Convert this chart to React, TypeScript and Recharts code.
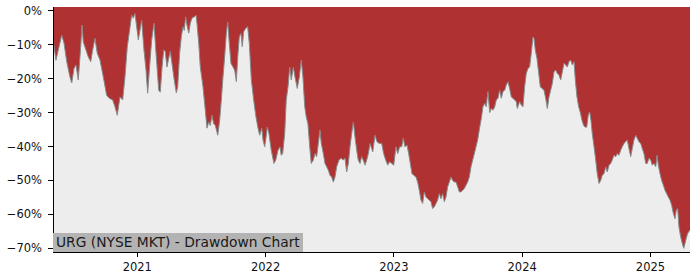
import { Area, AreaChart, CartesianGrid, XAxis, YAxis } from "recharts";

// decimal years of each sample
const years = [
  2020.343, 2020.366, 2020.384, 2020.411, 2020.429, 2020.45, 2020.475, 2020.489, 2020.507, 2020.522,
  2020.54, 2020.559, 2020.569, 2020.579, 2020.6, 2020.618, 2020.637, 2020.652, 2020.67, 2020.688,
  2020.709, 2020.735, 2020.761, 2020.782, 2020.808, 2020.826, 2020.844, 2020.865, 2020.886, 2020.904,
  2020.922, 2020.938, 2020.956, 2020.969, 2020.982, 2020.995, 2021.008, 2021.021, 2021.034, 2021.052,
  2021.068, 2021.081, 2021.094, 2021.112, 2021.13, 2021.146, 2021.167, 2021.179, 2021.193, 2021.206,
  2021.218, 2021.231, 2021.245, 2021.257, 2021.27, 2021.288, 2021.304, 2021.315, 2021.33, 2021.343,
  2021.356, 2021.366, 2021.377, 2021.387, 2021.401, 2021.413, 2021.426, 2021.444, 2021.457, 2021.465,
  2021.479, 2021.491, 2021.512, 2021.53, 2021.543, 2021.557, 2021.569, 2021.582, 2021.595, 2021.608,
  2021.627, 2021.642, 2021.655, 2021.668, 2021.681, 2021.694, 2021.705, 2021.715, 2021.73, 2021.746,
  2021.759, 2021.772, 2021.783, 2021.795, 2021.808, 2021.818, 2021.829, 2021.845, 2021.86, 2021.873,
  2021.889, 2021.907, 2021.925, 2021.941, 2021.954, 2021.97, 2021.98, 2021.993, 2022.001, 2022.013,
  2022.026, 2022.044, 2022.065, 2022.079, 2022.097, 2022.112, 2022.122, 2022.133, 2022.149, 2022.161,
  2022.175, 2022.188, 2022.2, 2022.216, 2022.229, 2022.247, 2022.263, 2022.278, 2022.291, 2022.305,
  2022.317, 2022.33, 2022.344, 2022.356, 2022.372, 2022.385, 2022.398, 2022.411, 2022.424, 2022.434,
  2022.45, 2022.463, 2022.476, 2022.489, 2022.502, 2022.515, 2022.528, 2022.541, 2022.554, 2022.572,
  2022.59, 2022.606, 2022.619, 2022.632, 2022.645, 2022.658, 2022.671, 2022.684, 2022.697, 2022.71,
  2022.722, 2022.736, 2022.749, 2022.761, 2022.775, 2022.788, 2022.801, 2022.814, 2022.835, 2022.853,
  2022.868, 2022.886, 2022.905, 2022.92, 2022.936, 2022.952, 2022.967, 2022.983, 2022.999, 2023.016,
  2023.03, 2023.045, 2023.061, 2023.073, 2023.086, 2023.102, 2023.115, 2023.128, 2023.141, 2023.154,
  2023.172, 2023.185, 2023.198, 2023.211, 2023.224, 2023.237, 2023.25, 2023.263, 2023.276, 2023.289,
  2023.302, 2023.315, 2023.328, 2023.341, 2023.354, 2023.367, 2023.38, 2023.393, 2023.406, 2023.419,
  2023.432, 2023.445, 2023.458, 2023.471, 2023.484, 2023.497, 2023.51, 2023.523, 2023.536, 2023.549,
  2023.562, 2023.575, 2023.588, 2023.601, 2023.614, 2023.627, 2023.64, 2023.653, 2023.669, 2023.681,
  2023.694, 2023.708, 2023.72, 2023.733, 2023.747, 2023.759, 2023.772, 2023.786, 2023.798, 2023.811,
  2023.825, 2023.837, 2023.85, 2023.864, 2023.876, 2023.889, 2023.902, 2023.915, 2023.928, 2023.941,
  2023.954, 2023.962, 2023.98, 2023.993, 2024.006, 2024.019, 2024.032, 2024.045, 2024.058, 2024.071,
  2024.084, 2024.092, 2024.102, 2024.115, 2024.129, 2024.141, 2024.154, 2024.17, 2024.183, 2024.196,
  2024.209, 2024.222, 2024.235, 2024.248, 2024.261, 2024.274, 2024.287, 2024.3, 2024.313, 2024.326,
  2024.339, 2024.351, 2024.365, 2024.378, 2024.391, 2024.404, 2024.414, 2024.427, 2024.44, 2024.453,
  2024.466, 2024.479, 2024.492, 2024.503, 2024.515, 2024.526, 2024.536, 2024.546, 2024.56, 2024.573,
  2024.585, 2024.599, 2024.612, 2024.624, 2024.638, 2024.651, 2024.663, 2024.677, 2024.69, 2024.702,
  2024.715, 2024.729, 2024.741, 2024.754, 2024.768, 2024.78, 2024.793, 2024.807, 2024.819, 2024.832,
  2024.846, 2024.858, 2024.871, 2024.885, 2024.897, 2024.91, 2024.924, 2024.936, 2024.949, 2024.963,
  2024.975, 2024.988, 2025.002, 2025.014, 2025.027, 2025.041, 2025.051, 2025.061, 2025.074, 2025.087,
  2025.1, 2025.113, 2025.126, 2025.139, 2025.152, 2025.165, 2025.178, 2025.191, 2025.201, 2025.212,
  2025.222, 2025.235, 2025.248, 2025.259, 2025.269, 2025.279, 2025.29, 2025.308,
];

// drawdown in percent
const drawdown = [
  -8.4, -14.6, -11.6, -7.2, -9.6, -15, -19.5, -21.3, -17, -16,
  -20.4, -10.6, -4.2, -9.2, -11.6, -13.6, -15, -11.6, -8.1, -12.5,
  -14.5, -19.5, -24.9, -25.8, -26.3, -28.3, -30.8, -25.4, -26.3, -19.5,
  -10.6, -6.3, -1.3, -2.2, -0.8, -4.7, -8.6, -5.7, -2.8, -11.6,
  -17.5, -24.3, -17.5, -8.6, -3.7, -12.5, -23.4, -24, -16.6, -11.6,
  -12, -16.6, -14, -12, -15.5, -20.4, -24.2, -22.4, -12.5, -7.7,
  -4.7, -5.8, -1.8, -4.2, -6.6, -3.7, -2.2, -1.8, -1.3, -3.7,
  -9.6, -16.6, -22.4, -29.3, -34.6, -32.8, -33.8, -30.8, -33.3, -33.8,
  -36.7, -32.3, -26.3, -19.5, -13.6, -6.7, -3.3, -8.6, -15.5, -16.6,
  -17.5, -20.9, -13.6, -7.7, -6.7, -10.6, -6.2, -5.2, -4.7, -9.6,
  -20.4, -26.3, -31.3, -34.6, -36.7, -34.6, -38.1, -40.1, -38.1, -34.3,
  -36.2, -41.1, -45, -44, -41.1, -40.1, -42.6, -42.1, -36.2, -26.3,
  -22.4, -16.6, -20.4, -16.6, -19.5, -22.9, -19.5, -14.6, -19.5, -28.3,
  -31.3, -33.3, -40.1, -45, -44, -42.1, -43, -39.1, -35.2, -39.1,
  -42.1, -45, -46, -47, -48.5, -49, -50.5, -49, -46, -44,
  -43.5, -44, -43.5, -47.5, -45, -40.1, -36.2, -32.8, -37.2, -41.1,
  -44, -45, -43, -44, -45.5, -44, -42.1, -39.1, -41.6, -36.7,
  -38.6, -39.1, -39.1, -42.1, -44, -45.5, -44.5, -45, -45.5, -40.1,
  -42.1, -40.1, -40.1, -37.6, -40.1, -39.6, -42.1, -45, -48, -48.5,
  -49, -50.5, -52.9, -55.8, -56.8, -53.4, -54.9, -55.4, -55.8, -56.3,
  -58.3, -57.8, -56.8, -55.8, -53.9, -55.4, -53.9, -56.3, -54.9, -51.9,
  -50.5, -49, -50, -50.5, -50.5, -51.9, -53.4, -53.4, -52.9, -52.4,
  -51.4, -50.5, -49, -46, -44, -42.1, -40.1, -38.1, -34.3, -31.8,
  -28.3, -27.3, -28.3, -23.8, -30, -28.8, -29.3, -28.3, -26.3, -25.8,
  -23.4, -25.8, -23.8, -23.4, -21.9, -20.9, -22.9, -25.4, -25.8, -26.3,
  -26.8, -28.8, -26.8, -27.8, -28.3, -22.4, -18.5, -17, -16.6, -12.5,
  -7.7, -8.2, -11.6, -14, -18.5, -22.4, -22.9, -23.4, -25.8, -28.8,
  -25.4, -23.4, -21.4, -18, -17.5, -18.5, -19, -20.4, -18, -15.5,
  -16, -16.6, -15, -14.5, -16, -15, -20.4, -25.4, -28.3, -30,
  -32.3, -33.8, -34.3, -34.3, -30.8, -29.8, -32.3, -36.2, -40.1, -44,
  -48, -50.9, -50, -48.5, -48, -46, -47.5, -45.5, -45, -44,
  -42.6, -43, -42.1, -42.6, -41.1, -40.1, -39.1, -38.6, -38.1, -40.6,
  -43, -40.6, -38.1, -36.7, -37.6, -38.6, -39.1, -40.6, -42.1, -45,
  -45, -43.5, -44, -45.5, -45, -46, -42.6, -45.5, -48, -50,
  -51.4, -52.9, -53.9, -54.9, -55.8, -57.3, -59.7, -61.3, -58.8, -58.3,
  -63.7, -66.6, -68.6, -70, -68.6, -67, -65.6, -64.6,
];

const yearTicks = [2021, 2022, 2023, 2024, 2025];
const pctTicks = [0, -10, -20, -30, -40, -50, -60, -70];
const chartLabel = "URG (NYSE MKT) - Drawdown Chart";

const X_DOMAIN: [number, number] = [2020.343, 2025.308];
const Y_MAX = 1.1;
const Y_DOMAIN: [number, number] = [-71.1, Y_MAX];

const FONT = "DejaVu Sans, sans-serif";
const tickStyle = { fontSize: 11.5, fill: "#111", fontFamily: FONT };
const lineStyle = { stroke: "#000", strokeWidth: 1, shapeRendering: "crispEdges" };

const fmtPct = (v: number) => (v === 0 ? "0%" : `\u2212${Math.abs(v)}%`);

export default function App() {
  const data = years.map((t, i) => ({ t, dd: drawdown[i] }));

  return (
    <div style={{ position: "absolute", left: 0, top: 0, width: 700, height: 280, background: "#fff" }}>
      <AreaChart width={700} height={280} data={data} margin={{ top: 7, right: 10, bottom: 0, left: 0 }}>
        <CartesianGrid horizontal={false} vertical={false} fill="#ededed" />
        <XAxis
          dataKey="t"
          type="number"
          domain={X_DOMAIN}
          ticks={yearTicks}
          allowDataOverflow
          height={28}
          tick={tickStyle}
          tickSize={5}
          tickMargin={6}
          tickLine={lineStyle}
          axisLine={lineStyle}
        />
        <XAxis
          xAxisId="top"
          orientation="top"
          dataKey="t"
          type="number"
          domain={X_DOMAIN}
          allowDataOverflow
          height={0}
          tick={false}
          tickLine={false}
          axisLine={lineStyle}
        />
        <YAxis
          type="number"
          domain={Y_DOMAIN}
          ticks={pctTicks}
          allowDataOverflow
          width={53}
          tick={tickStyle}
          tickFormatter={fmtPct}
          tickSize={5}
          tickMargin={6}
          tickLine={lineStyle}
          axisLine={lineStyle}
        />
        <YAxis
          yAxisId="right"
          orientation="right"
          type="number"
          domain={Y_DOMAIN}
          allowDataOverflow
          width={0}
          tick={false}
          tickLine={false}
          axisLine={{ ...lineStyle, stroke: "#444" }}
        />
        <Area
          dataKey="dd"
          type="linear"
          baseValue={Y_MAX}
          stroke="#8a8a8a"
          strokeWidth={1}
          fill="#b03131"
          fillOpacity={1}
          isAnimationActive={false}
        />
      </AreaChart>
      <div
        style={{
          position: "absolute",
          left: 53,
          top: 233,
          height: 18.5,
          lineHeight: "18.5px",
          padding: "0 3px",
          background: "#b3b3b3",
          color: "#1a1a1a",
          fontFamily: FONT,
          fontSize: 13.8,
          whiteSpace: "nowrap",
        }}
      >
        {chartLabel}
      </div>
    </div>
  );
}
